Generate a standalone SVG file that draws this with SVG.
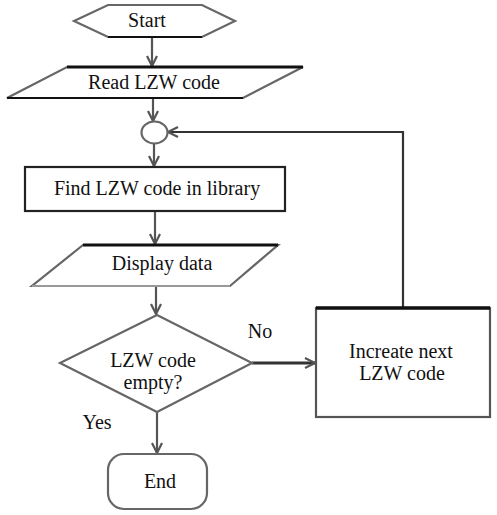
<svg xmlns="http://www.w3.org/2000/svg" width="497" height="515" viewBox="0 0 497 515">
<defs>
<style>
.sh{fill:#fff;stroke:#666;stroke-width:2.2}
.blk{stroke:#111;stroke-width:2.2;fill:none}
.ln{stroke:#555;stroke-width:2.2;fill:none}
text{font-family:'Liberation Serif','DejaVu Serif',serif;font-size:20px;fill:#111;text-anchor:middle}
</style>
<marker id="ah" viewBox="0 0 12 12" refX="11" refY="6" markerWidth="12" markerHeight="12" markerUnits="userSpaceOnUse" orient="auto">
<path d="M1,1 L11,6 L1,11" fill="none" stroke="#555" stroke-width="2.2"/>
</marker>
</defs>
<rect width="497" height="515" fill="#fff"/>
<g id="connectors">
<line class="ln" x1="152" y1="37" x2="152" y2="66" marker-end="url(#ah)"/>
<line class="ln" x1="153" y1="98" x2="153" y2="121" marker-end="url(#ah)"/>
<line class="ln" x1="154" y1="144" x2="154" y2="166" marker-end="url(#ah)"/>
<line class="ln" x1="155" y1="211" x2="155" y2="244" marker-end="url(#ah)"/>
<line class="ln" x1="156" y1="286" x2="156" y2="314" marker-end="url(#ah)"/>
<line class="ln" x1="157" y1="412" x2="157" y2="453" marker-end="url(#ah)"/>
<line class="ln" x1="252" y1="363" x2="315" y2="363" marker-end="url(#ah)" style="stroke:#333;stroke-width:3"/>
<polyline class="ln" points="403,307 403,132 168,132" marker-end="url(#ah)" style="stroke:#333"/>
</g>
<g id="start">
<polygon class="sh" points="108,5 202,5 235,21 202,37 108,37 74,21"/>
<line class="blk" x1="108" y1="37" x2="202" y2="37"/>
<text x="147" y="27" font-family="Liberation Serif">Start</text>
</g>
<g id="read">
<polygon class="sh" points="67,67 303,67 243,98 7,98"/>
<line class="blk" x1="67" y1="67" x2="303" y2="67" style="stroke-width:3"/>
<line class="blk" x1="7" y1="98" x2="243" y2="98"/>
<text x="154" y="89">Read LZW code</text>
</g>
<g id="junction">
<ellipse class="sh" cx="154.5" cy="132.5" rx="13" ry="11"/>
</g>
<g id="find">
<rect class="sh" x="25" y="167" width="260" height="44" style="stroke:#222"/>
<text x="157" y="195">Find LZW code in library</text>
</g>
<g id="display">
<polygon class="sh" points="83,245 278,245 230,286 32,286"/>
<line class="blk" x1="83" y1="245" x2="278" y2="245" style="stroke-width:3"/>
<line x1="32" y1="286" x2="230" y2="286" stroke="#999" stroke-width="2"/>
<text x="162" y="270">Display data</text>
</g>
<g id="decision">
<polygon class="sh" points="157,315 252,363 157,412 60,363"/>
<text x="153" y="367">LZW code</text>
<text x="153" y="389">empty?</text>
</g>
<g id="increate">
<rect class="sh" x="316" y="308" width="174" height="109" style="stroke:#555"/>
<line class="blk" x1="316" y1="308" x2="490" y2="308" style="stroke-width:3.5"/>
<text x="401" y="358">Increate next</text>
<text x="402" y="380">LZW code</text>
</g>
<g id="end">
<rect class="sh" x="108" y="454" width="99" height="55" rx="16" ry="16"/>
<text x="160" y="488">End</text>
</g>
<g id="labels">
<text x="260" y="338">No</text>
<text x="97" y="429">Yes</text>
</g>
</svg>
